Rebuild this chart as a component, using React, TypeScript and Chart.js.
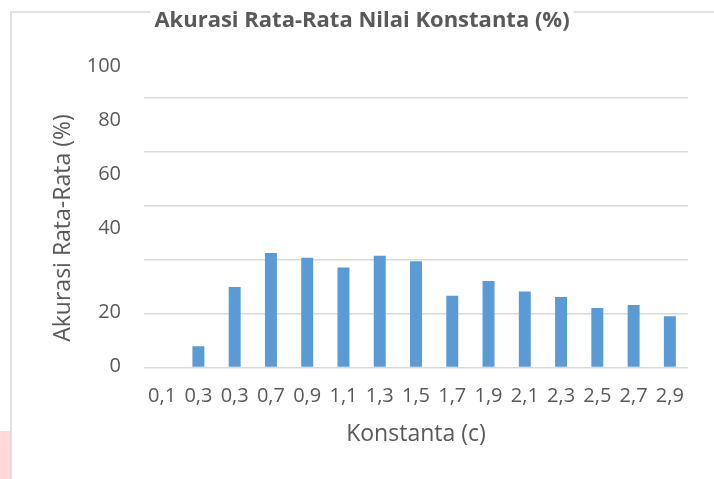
import React, { useEffect, useRef } from "react";
import { Chart, registerables } from "chart.js";

Chart.register(...registerables);

const categories = ["0,1", "0,3", "0,3", "0,7", "0,9", "1,1", "1,3", "1,5", "1,7", "1,9", "2,1", "2,3", "2,5", "2,7", "2,9"];
const accuracy = [0, 7.85, 29.8, 42.4, 40.7, 37.0, 41.4, 39.4, 26.6, 32.0, 28.1, 26.1, 22.0, 23.1, 19.0];
const yTicks = [0, 20, 40, 60, 80, 100];
const chartTitle = "Akurasi Rata-Rata Nilai Konstanta (%)";
const yTitle = "Akurasi Rata-Rata (%)";
const xTitle = "Konstanta (c)";

const FONT = "'Open Sans', 'Noto Sans', sans-serif";
const TEXT = "#595959";
const GRID = "#D9D9D9";

const decor = {
  id: "decor",
  beforeDraw(chart: any) {
    const ctx = chart.ctx;
    ctx.save();
    ctx.fillStyle = "#FFD9DC";
    ctx.fillRect(0, 431, 11, 48);
    ctx.strokeStyle = GRID;
    ctx.lineWidth = 1.5;
    ctx.beginPath();
    ctx.moveTo(11, 479);
    ctx.lineTo(11, 12);
    ctx.lineTo(714, 12);
    ctx.stroke();
    ctx.restore();
  },
  afterDraw(chart: any) {
    const ctx = chart.ctx;
    const y = chart.scales.y;
    ctx.save();
    // title
    ctx.font = `bold 22px ${FONT}`;
    const tw = ctx.measureText(chartTitle).width;
    ctx.fillStyle = "#fff";
    ctx.fillRect(362 - tw / 2 - 4, 4, tw + 8, 30);
    ctx.fillStyle = TEXT;
    ctx.textAlign = "center";
    ctx.textBaseline = "middle";
    ctx.fillText(chartTitle, 362, 21);
    // y tick labels
    ctx.font = `20px ${FONT}`;
    ctx.textAlign = "right";
    y.ticks.forEach((t: any) => {
      const p = y.getPixelForValue(t.value);
      const off = t.value >= 40 ? -31 : -1;
      ctx.fillText(String(t.value), 121, p + off);
    });
    // y title
    ctx.font = `23px ${FONT}`;
    ctx.translate(63, 228);
    ctx.rotate(-Math.PI / 2);
    ctx.textAlign = "center";
    ctx.fillText(yTitle, 0, 0);
    ctx.restore();
  },
};

export default function App() {
  const ref = useRef<HTMLCanvasElement>(null);
  useEffect(() => {
    const chart = new Chart(ref.current!, {
      type: "bar",
      data: {
        labels: categories,
        datasets: [
          {
            data: accuracy,
            backgroundColor: "#5B9BD5",
            barPercentage: 0.33,
            categoryPercentage: 1,
          },
        ],
      },
      options: {
        animation: false,
        responsive: false,
        layout: { padding: { left: 144, right: 26, top: 97.7, bottom: 26.5 } },
        plugins: { legend: { display: false }, tooltip: { enabled: false }, title: { display: false } },
        scales: {
          x: {
            grid: { display: false },
            border: { display: false },
            ticks: { color: TEXT, font: { family: FONT, size: 20, lineHeight: 1.1 }, padding: 9.5, maxRotation: 0, autoSkip: false },
            title: { display: true, text: xTitle, color: TEXT, font: { family: FONT, size: 23 }, padding: { top: 4.5, bottom: 4 } },
          },
          y: {
            min: 0,
            max: 100,
            afterBuildTicks: (s: any) => {
              s.ticks = yTicks.map((v) => ({ value: v }));
            },
            ticks: { display: false },
            grid: { color: GRID, lineWidth: 1.5, drawTicks: false },
            border: { display: false },
          },
        },
      },
      plugins: [decor],
    });
    return () => chart.destroy();
  }, []);
  return (
    <div style={{ position: "fixed", left: 0, top: 0, width: 714, height: 479, background: "#fff" }}>
      <canvas ref={ref} width={714} height={479} style={{ display: "block" }} />
    </div>
  );
}
